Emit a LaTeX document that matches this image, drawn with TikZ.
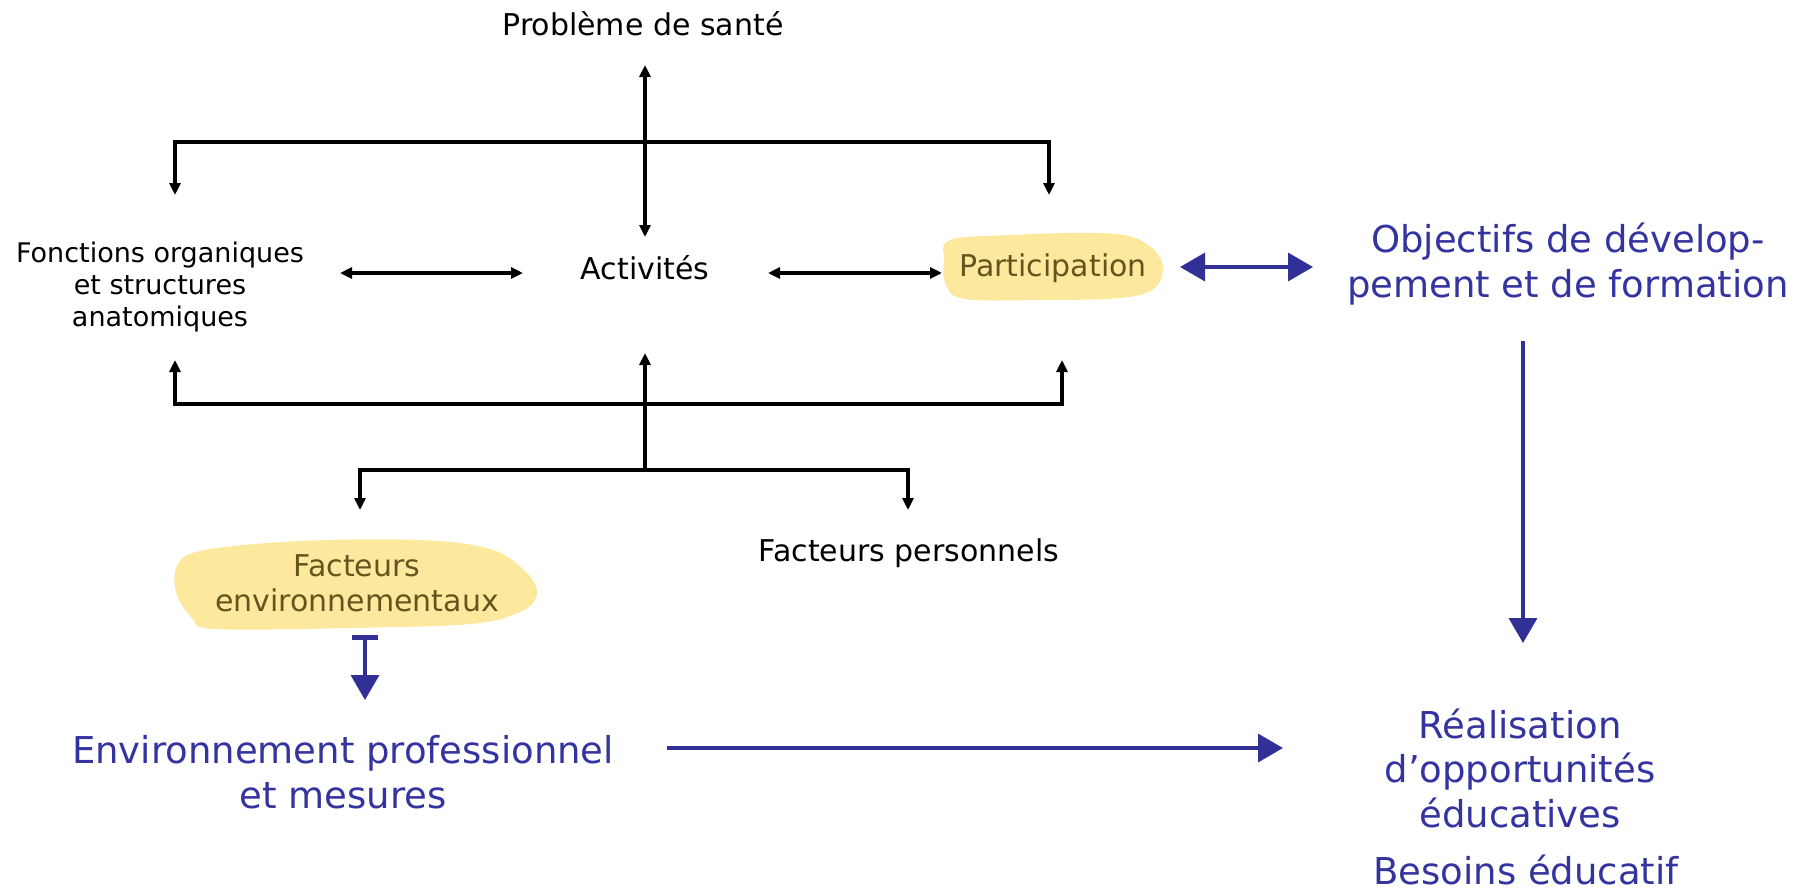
\documentclass[tikz,border=0pt]{standalone}
\usepackage{fontspec}
\setmainfont{DejaVu Sans}
\usetikzlibrary{arrows.meta}
\definecolor{ablue}{RGB}{48,48,150}
\definecolor{tblue}{RGB}{52,52,160}
\definecolor{hl}{RGB}{253,233,158}
\definecolor{hltext}{RGB}{100,85,30}
\tikzset{
  blackhead/.tip={Triangle[length=12pt,width=11pt]},
  bluehead/.tip={Triangle[length=25pt,width=28pt]},
}
\begin{document}
\begin{tikzpicture}[x=1pt,y=-1pt,
  every node/.style={inner sep=0pt, align=center},
  btxt/.style={font=\fontsize{30}{35}\selectfont},
  smalltxt/.style={font=\fontsize{27}{32}\selectfont},
  bluetxt/.style={text=tblue, font=\fontsize{37}{44.5}\selectfont},
  hltxt/.style={btxt, text=hltext},
  blk/.style={draw=black, line width=3.4pt, line join=miter},
  blu/.style={draw=ablue, line width=3.6pt},
  hlblob/.style={fill=hl},
]
\useasboundingbox (0,0) rectangle (1810,892);

% highlight blobs
\fill[hlblob] plot[smooth cycle, tension=0.6] coordinates {
  (950,240) (1010,235) (1100,233) (1140,240) (1162,262) (1155,288)
  (1120,298) (1040,300) (965,299) (946,285) (944,260)};
\fill[hlblob] plot[smooth cycle, tension=0.6] coordinates {
  (178,564) (205,550) (300,541) (420,540) (490,549) (525,571) (537,594)
  (520,612) (470,624) (350,628) (215,629) (192,618) (176,592)};

% nodes
\node[btxt] (sante) at (643,24) {Problème de santé};
\node[smalltxt] (fonc) at (160,287) {Fonctions organiques\\et structures\\anatomiques};
\node[btxt] (act) at (645,268) {Activités};
\node[hltxt] (part) at (1053,268) {Participation};
\node[bluetxt] (obj) at (1568,264) {Objectifs de dévelop-\\pement et de formation};
\node[hltxt] (fenv) at (357,583) {Facteurs\\environnementaux};
\node[btxt] (fpers) at (909,553) {Facteurs personnels};
\node[bluetxt] (envp) at (343,772) {Environnement professionnel\\et mesures};
\node[bluetxt] (real) at (1520,768) {Réalisation\\d’opportunités\\éducatives};
\node[bluetxt, anchor=base] (bes) at (1526,884) {Besoins éducatif};

% coordinates for connector ends
\coordinate (tA) at (645,65);
\coordinate (tB) at (645,237);
\coordinate (tl) at (175,195);
\coordinate (tlc) at (175,142);
\coordinate (trc) at (1049,142);
\coordinate (tr) at (1049,195);
\coordinate (bl) at (175,360);
\coordinate (blc) at (175,404);
\coordinate (brc) at (1062,404);
\coordinate (br) at (1062,360);
\coordinate (bc) at (645,470);
\coordinate (bcu) at (645,353);
\coordinate (ll) at (360,510);
\coordinate (llc) at (360,470);
\coordinate (lrc) at (908,470);
\coordinate (lr) at (908,510);
\coordinate (h1a) at (340,273);
\coordinate (h1b) at (523,273);
\coordinate (h2a) at (768,273);
\coordinate (h2b) at (942,273);
\coordinate (p1) at (1180,267);
\coordinate (p2) at (1313,267);
\coordinate (o1) at (1523,341);
\coordinate (o2) at (1523,643);
\coordinate (f1) at (365,635);
\coordinate (f2) at (365,700);
\coordinate (e1) at (667,748);
\coordinate (e2) at (1283,748);

% black connectors
\draw[blk, blackhead-blackhead] (tA) -- (tB);
\draw[blk, blackhead-blackhead] (tl) -- (tlc) -- (trc) -- (tr);
\draw[blk, blackhead-blackhead] (bl) -- (blc) -- (brc) -- (br);
\draw[blk, -blackhead] (bc) -- (bcu);
\draw[blk, blackhead-blackhead] (ll) -- (llc) -- (lrc) -- (lr);
\draw[blk, blackhead-blackhead] (h1a) -- (h1b);
\draw[blk, blackhead-blackhead] (h2a) -- (h2b);

% blue connectors
\draw[blu, bluehead-bluehead] (p1) -- (p2);
\draw[blu, -bluehead] (o1) -- (o2);
\draw[blu, {Bar[width=26pt,line width=4.5pt]}-bluehead] (f1) -- (f2);
\draw[blu, -bluehead] (e1) -- (e2);
\end{tikzpicture}
\end{document}
